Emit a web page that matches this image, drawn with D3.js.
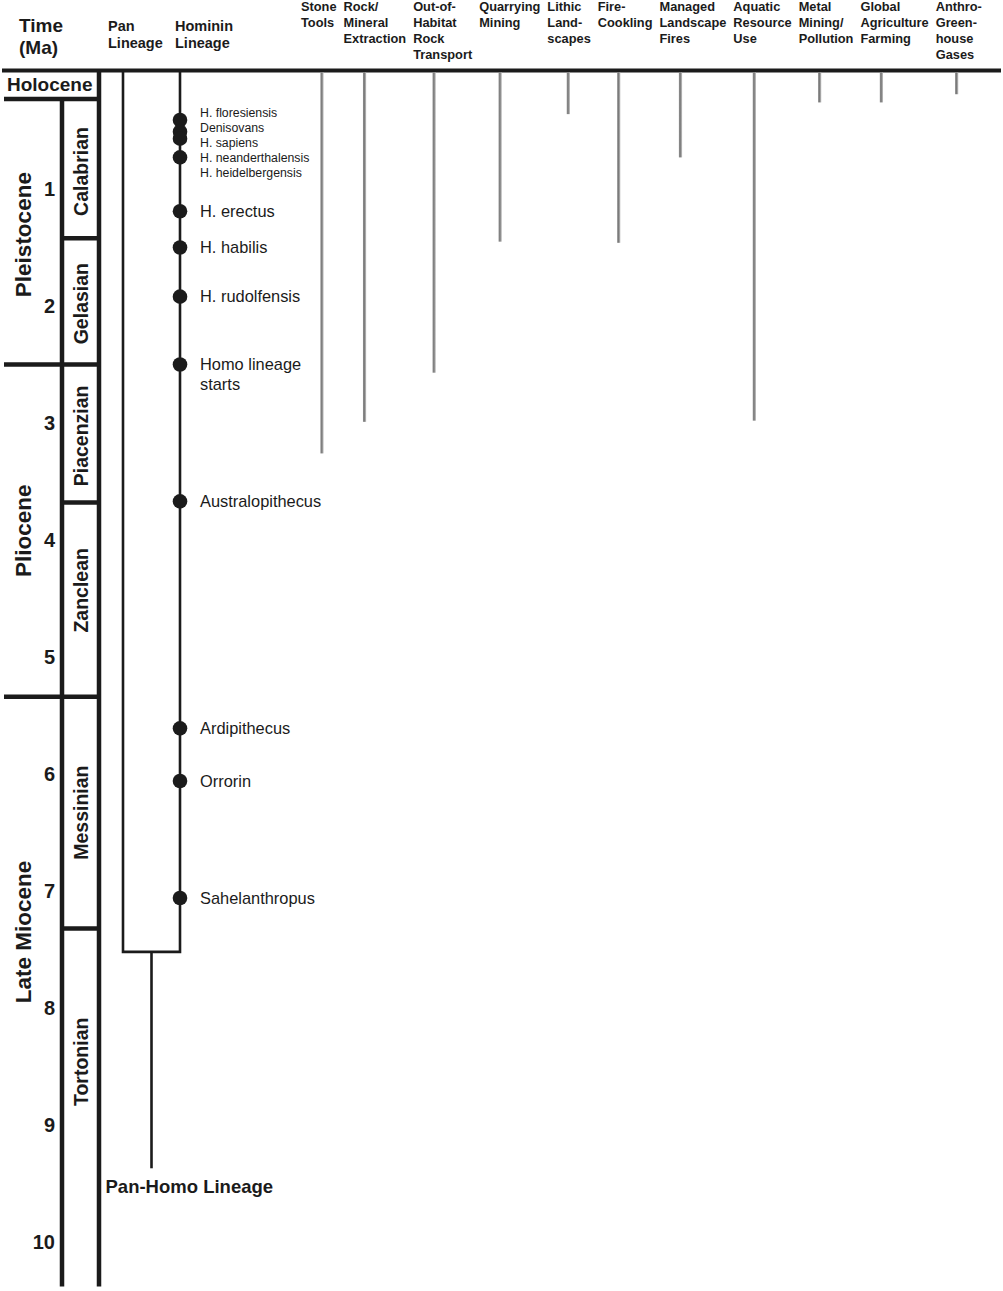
<!DOCTYPE html>
<html><head><meta charset="utf-8">
<script src="https://cdn.jsdelivr.net/npm/d3@7"></script>
<style>
html,body{margin:0;padding:0;background:#fff;}
svg{display:block;font-family:"Liberation Sans",Arial,Helvetica,sans-serif;}
</style></head><body>
<svg id="chart" width="1003" height="1291"></svg>
<script>
// ---------------- DATA (times in Ma, as drawn in the figure) ----------------
const tickValues = [1, 2, 3, 4, 5, 6, 7, 8, 9, 10];

const epochNames   = ["Holocene", "Pleistocene", "Pliocene", "Late Miocene"];
const epochStartMa = [0, 0.23, 2.5, 5.34];
const epochEndMa   = [0.23, 2.5, 5.34, 10.38];
const epochLabelMa = [0.115, 1.39, 3.92, 7.35];

const stageNames   = ["Calabrian", "Gelasian", "Piacenzian", "Zanclean", "Messinian", "Tortonian"];
const stageStartMa = [0.23, 1.42, 2.5, 3.68, 5.34, 7.32];
const stageEndMa   = [1.42, 2.5, 3.68, 5.34, 7.32, 10.38];
const stageLabelMa = [0.85, 1.98, 3.11, 4.43, 6.33, 8.46];

// clustered young Homo species (small labels); heidelbergensis has no separate dot
const clusterNames = ["H. floresiensis", "Denisovans", "H. sapiens", "H. neanderthalensis", "H. heidelbergensis"];
const clusterMa    = [0.41, 0.51, 0.57, 0.73, null];

const homininNames = ["H. erectus", "H. habilis", "H. rudolfensis", "Homo lineage\nstarts",
                      "Australopithecus", "Ardipithecus", "Orrorin", "Sahelanthropus"];
const homininMa    = [1.19, 1.50, 1.92, 2.50, 3.67, 5.61, 6.06, 7.06];

const panHomoSplitMa   = 7.52;
const panHomoStemEndMa = 9.37;
const chartBottomMa    = 10.38;

const activityLabels = [
  ["Stone", "Tools"],
  ["Rock/", "Mineral", "Extraction"],
  ["Out-of-", "Habitat", "Rock", "Transport"],
  ["Quarrying", "Mining"],
  ["Lithic", "Land-", "scapes"],
  ["Fire-", "Cookling"],
  ["Managed", "Landscape", "Fires"],
  ["Aquatic", "Resource", "Use"],
  ["Metal", "Mining/", "Pollution"],
  ["Global", "Agriculture", "Farming"],
  ["Anthro-", "Green-", "house", "Gases"]
];
const activityStartMa = [0, 0, 0, 0, 0, 0, 0, 0, 0, 0, 0];
const activityEndMa   = [3.26, 2.99, 2.57, 1.45, 0.36, 1.46, 0.73, 2.98, 0.26, 0.26, 0.19];

// ---------------- LAYOUT ----------------
const W = 1003, H = 1291;
const svg = d3.select("#chart");
const y = d3.scaleLinear().domain([0, 10]).range([72, 1242]);

const X = {
  epochLeft: 4, stageLeft: 62, stageRight: 99,
  pan: 123, hominin: 180, label: 200,
  headerStart: 301, headerGap: 7, barOffset: 21
};
X.stem = (X.pan + X.hominin) / 2;
const ink = "#1b1b1b";

const defs = svg.append("defs");
const grad = defs.append("linearGradient").attr("id", "barGrad")
  .attr("x1", "0").attr("x2", "1").attr("y1", "0").attr("y2", "0");
grad.append("stop").attr("offset", "0%").attr("stop-color", "#8e8e8e");
grad.append("stop").attr("offset", "45%").attr("stop-color", "#7a7a7a");
grad.append("stop").attr("offset", "100%").attr("stop-color", "#c6c6c6");

// ---------------- HEADERS ----------------
const hdrBold = (sel) => sel.attr("font-weight", "bold").attr("fill", ink);

const timeHdr = svg.append("text").call(hdrBold).attr("font-size", 19);
timeHdr.append("tspan").attr("x", 19).attr("y", 32).text("Time");
timeHdr.append("tspan").attr("x", 19).attr("y", 54).text("(Ma)");

[["Pan", "Lineage", 108], ["Hominin", "Lineage", 175]].forEach(([a, b, x]) => {
  const t = svg.append("text").call(hdrBold).attr("font-size", 14.5);
  t.append("tspan").attr("x", x).attr("y", 31).text(a);
  t.append("tspan").attr("x", x).attr("y", 48).text(b);
});

// activity headers laid out left-to-right by measured text widths
const actHdr = svg.append("g").attr("class", "activity-headers");
let cursor = X.headerStart;
const activityX = [];
activityLabels.forEach((lines) => {
  const t = actHdr.append("text").call(hdrBold).attr("font-size", 12.8);
  let maxW = 0;
  lines.forEach((ln, i) => {
    const ts = t.append("tspan").attr("x", cursor).attr("y", 11 + i * 16).text(ln);
    maxW = Math.max(maxW, ts.node().getComputedTextLength());
  });
  activityX.push(cursor);
  cursor += maxW + X.headerGap;
});

// top rule
svg.append("line").attr("x1", 2).attr("x2", 1001)
  .attr("y1", y(0) - 1.5).attr("y2", y(0) - 1.5)
  .attr("stroke", ink).attr("stroke-width", 4);

// ---------------- GEOLOGIC TIME COLUMN ----------------
const geo = svg.append("g").attr("class", "geo");
geo.append("line").attr("x1", X.stageRight).attr("x2", X.stageRight)
  .attr("y1", y(0)).attr("y2", y(chartBottomMa))
  .attr("stroke", ink).attr("stroke-width", 4.5);
geo.append("line").attr("x1", X.stageLeft).attr("x2", X.stageLeft)
  .attr("y1", y(epochEndMa[0]) - 2).attr("y2", y(chartBottomMa))
  .attr("stroke", ink).attr("stroke-width", 4.5);

// epoch boundaries
geo.selectAll("line.epoch-b").data(epochEndMa.slice(0, 3)).join("line")
  .attr("class", "epoch-b")
  .attr("x1", X.epochLeft).attr("x2", X.stageRight + 2)
  .attr("y1", d => y(d)).attr("y2", d => y(d))
  .attr("stroke", ink).attr("stroke-width", 4.5);

// stage boundaries that are not epoch boundaries
const stageOnly = stageEndMa.filter(d => !epochEndMa.includes(d) && d < chartBottomMa);
geo.selectAll("line.stage-b").data(stageOnly).join("line")
  .attr("class", "stage-b")
  .attr("x1", X.stageLeft).attr("x2", X.stageRight)
  .attr("y1", d => y(d)).attr("y2", d => y(d))
  .attr("stroke", ink).attr("stroke-width", 4.5);

// Holocene label (horizontal)
geo.append("text").attr("x", 7).attr("y", y(epochEndMa[0]) - 8)
  .attr("font-size", 19).attr("font-weight", "bold").attr("fill", ink)
  .text(epochNames[0]);

// other epoch labels (rotated)
geo.selectAll("text.epoch").data(epochNames.slice(1)).join("text")
  .attr("class", "epoch")
  .attr("transform", (d, i) => `translate(23,${y(epochLabelMa[i + 1])}) rotate(-90)`)
  .attr("text-anchor", "middle").attr("dy", "0.36em")
  .attr("font-size", 22.5).attr("font-weight", "bold").attr("fill", ink)
  .text(d => d);

// stage labels (rotated)
geo.selectAll("text.stage").data(stageNames).join("text")
  .attr("class", "stage")
  .attr("transform", (d, i) => `translate(${(X.stageLeft + X.stageRight) / 2},${y(stageLabelMa[i])}) rotate(-90)`)
  .attr("text-anchor", "middle").attr("dy", "0.36em")
  .attr("font-size", 19.5).attr("font-weight", "bold").attr("fill", ink)
  .text(d => d);

// time axis numbers
const axis = d3.axisLeft(y).tickValues(tickValues).tickSize(0).tickPadding(0)
  .tickFormat(d3.format("d"));
const axG = svg.append("g").attr("transform", "translate(55,0)").call(axis);
axG.select(".domain").remove();
axG.selectAll("text").attr("font-size", 20).attr("font-weight", "bold")
  .attr("fill", ink).attr("font-family", '"Liberation Sans",Arial,sans-serif');

// ---------------- LINEAGES ----------------
const lin = svg.append("g").attr("class", "lineage");
const lw = 2.6;
lin.append("path")
  .attr("d", `M${X.pan},${y(0)} V${y(panHomoSplitMa)} H${X.hominin} V${y(0)}`)
  .attr("fill", "none").attr("stroke", ink).attr("stroke-width", lw);
lin.append("line").attr("x1", X.stem).attr("x2", X.stem)
  .attr("y1", y(panHomoSplitMa)).attr("y2", y(panHomoStemEndMa))
  .attr("stroke", ink).attr("stroke-width", lw);
lin.append("text").attr("x", X.stem - 46).attr("y", y(panHomoStemEndMa) + 25)
  .attr("font-size", 18.5).attr("font-weight", "bold").attr("fill", ink)
  .text("Pan-Homo Lineage");

// dots
const allDotsMa = clusterMa.filter(d => d != null).concat(homininMa);
lin.selectAll("circle").data(allDotsMa).join("circle")
  .attr("cx", X.hominin).attr("cy", d => y(d)).attr("r", 7.3).attr("fill", ink);

// small stacked labels for the young cluster
lin.selectAll("text.cl").data(clusterNames).join("text")
  .attr("class", "cl")
  .attr("x", X.label).attr("y", (d, i) => y(clusterMa[0]) - 3 + i * 15)
  .attr("font-size", 12.3).attr("fill", ink)
  .text(d => d);

// main labels
lin.selectAll("text.hl").data(homininNames).join("text")
  .attr("class", "hl")
  .attr("font-size", 16.4).attr("fill", ink)
  .each(function (d, i) {
    const t = d3.select(this);
    d.split("\n").forEach((ln, j) => {
      t.append("tspan").attr("x", X.label).attr("y", y(homininMa[i]) + 5.8 + j * 20).text(ln);
    });
  });

// ---------------- ACTIVITY BARS ----------------
svg.append("g").attr("class", "bars").selectAll("rect")
  .data(activityEndMa).join("rect")
  .attr("x", (d, i) => activityX[i] + X.barOffset - 1.6)
  .attr("y", (d, i) => y(activityStartMa[i]) + 0.5)
  .attr("width", 3.2)
  .attr("height", (d, i) => y(d) - y(activityStartMa[i]) - 0.5)
  .attr("fill", "url(#barGrad)");
</script>
</body></html>
